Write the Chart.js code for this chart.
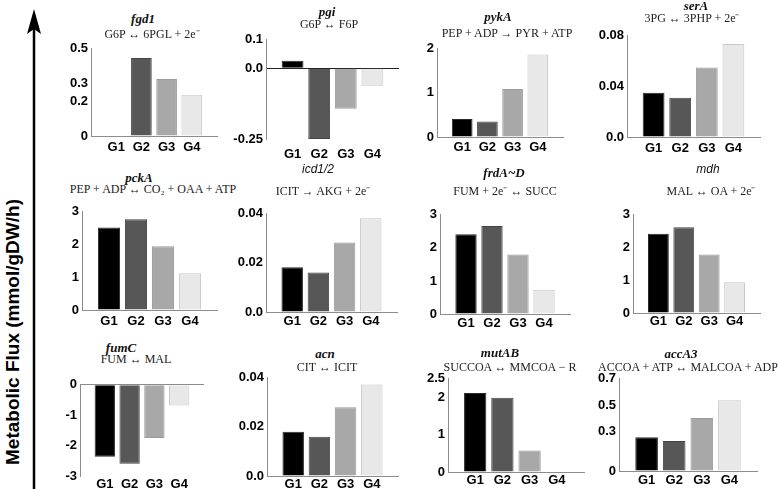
<!DOCTYPE html>
<html>
<head>
<meta charset="utf-8">
<script src="https://cdn.jsdelivr.net/npm/chart.js@4.4.1/dist/chart.umd.min.js"></script>
<style>
body { margin:0; background:#fff; width:778px; height:489px; overflow:hidden; position:relative; }
canvas { position:absolute; }
.gene { position:absolute; transform:translate(-50%,-50%); font:italic bold 13px 'Liberation Serif', serif; white-space:nowrap; color:#111; }
.gene.sans { font:italic 12px 'Liberation Sans', sans-serif; }
.eq { position:absolute; transform:translate(-50%,-50%); font:12px 'Liberation Serif', serif; white-space:nowrap; color:#222; }
#ylabel { position:absolute; left:13px; top:332px; transform:translate(-50%,-50%) rotate(-90deg); font:bold 19px 'Liberation Sans', Arial, sans-serif; white-space:nowrap; color:#000; }
</style>
</head>
<body>
<svg width="50" height="489" style="position:absolute;left:0;top:0">
  <line x1="34" y1="489" x2="34" y2="28" stroke="#000" stroke-width="2.5"/>
  <polygon points="34,9 27,34 34,29 41,34" fill="#000"/>
</svg>
<div id="ylabel">Metabolic Flux (mmol/gDW/h)</div>
<script>
let groups = ['G1', 'G2', 'G3', 'G4']
let genes = ['fgd1', 'pgi', 'pykA', 'serA', 'pckA', 'icd1/2', 'frdA~D', 'mdh', 'fumC', 'acn', 'mutAB', 'accA3']
let reactions = [
    'G6P ↔ 6PGL + 2e⁻', 'G6P ↔ F6P', 'PEP + ADP → PYR + ATP', '3PG ↔ 3PHP + 2e⁻',
    'PEP + ADP ↔ CO₂ + OAA + ATP', 'ICIT → AKG + 2e⁻', 'FUM + 2e⁻ ↔ SUCC', 'MAL ↔ OA + 2e⁻',
    'FUM ↔ MAL', 'CIT ↔ ICIT', 'SUCCOA ↔ MMCOA − R', 'ACCOA + ATP ↔ MALCOA + ADP'
]

// flux values per gene, G1..G4
let fgd1Flux = [0, 0.447, 0.327, 0.237]
let pgiFlux = [0.026, -0.25, -0.143, -0.062]
let pykAFlux = [0.41, 0.35, 1.09, 1.87]
let serAFlux = [0.035, 0.031, 0.055, 0.0735]
let pckAFlux = [2.52, 2.77, 1.95, 1.12]
let icdFlux = [0.0182, 0.0161, 0.0283, 0.0382]
let frdAFlux = [2.41, 2.66, 1.80, 0.73]
let mdhFlux = [2.42, 2.62, 1.79, 0.94]
let fumCFlux = [-2.37, -2.6, -1.75, -0.68]
let acnFlux = [0.018, 0.016, 0.028, 0.0373]
let mutABFlux = [2.12, 1.99, 0.58, 0]
let accA3Flux = [0.257, 0.227, 0.403, 0.538]

// y tick values and their labels
let fgd1Ticks = [0, 0.2, 0.3, 0.5], fgd1Labels = ['0', '0.2', '0.3', '0.5']
let pgiTicks = [-0.25, 0, 0.1], pgiLabels = ['-0.25', '0.0', '0.1']
let pykATicks = [0, 1, 2], pykALabels = ['0', '1', '2']
let serATicks = [0, 0.04, 0.08], serALabels = ['0.0', '0.04', '0.08']
let pckATicks = [0, 1, 2, 3], pckALabels = ['0', '1', '2', '3']
let icdTicks = [0, 0.02, 0.04], icdLabels = ['0.0', '0.02', '0.04']
let frdATicks = [0, 1, 2, 3], frdALabels = ['0', '1', '2', '3']
let mdhTicks = [0, 1, 2, 3], mdhLabels = ['0', '1', '2', '3']
let fumCTicks = [-3, -2, -1, 0], fumCLabels = ['-3', '-2', '-1', '0']
let acnTicks = [0, 0.02, 0.04], acnLabels = ['0.0', '0.02', '0.04']
let mutABTicks = [0, 1, 2, 2.5], mutABLabels = ['0', '1', '2', '2.5']
let accA3Ticks = [0, 0.3, 0.5, 0.7], accA3Labels = ['0', '0.3', '0.5', '0.7']

let fluxes = [fgd1Flux, pgiFlux, pykAFlux, serAFlux, pckAFlux, icdFlux, frdAFlux, mdhFlux, fumCFlux, acnFlux, mutABFlux, accA3Flux]
let tickSets = [fgd1Ticks, pgiTicks, pykATicks, serATicks, pckATicks, icdTicks, frdATicks, mdhTicks, fumCTicks, acnTicks, mutABTicks, accA3Ticks]
let labelSets = [fgd1Labels, pgiLabels, pykALabels, serALabels, pckALabels, icdLabels, frdALabels, mdhLabels, fumCLabels, acnLabels, mutABLabels, accA3Labels]

// plot area: left, top, right, bottom ; gene title x,y ; reaction x,y ; group label y
let boxes = [
    [91, 48, 217, 136, 143, 19, 152, 33, 148],
    [266, 39, 399, 139, 327, 12, 329, 24, 155],
    [437, 48, 563, 137, 498, 17, 507, 33, 148],
    [627, 35, 760, 137, 696, 6, 692, 17, 149],
    [82, 211, 217, 310, 139, 178, 153, 189, 322],
    [266, 213, 397, 312, 318, 169, 323, 190, 322],
    [440, 214, 570, 314, 504, 173, 505, 190, 324],
    [633, 214, 760, 313, 708, 169, 711, 190, 322],
    [80, 384, 204, 476, 121, 348, 136, 359, 485],
    [267, 377, 398, 476, 325, 354, 327, 367, 485],
    [448, 378, 584, 472, 500, 353, 510, 367, 481],
    [619, 378, 757, 471, 681, 354, 688, 367, 481]
]

let barColors = ['#000000', '#575757', '#a8a8a8', '#e8e8e8']
let barBorders = ['#2a2a2a', '#444444', '#9a9a9a', '#c8c8c8']
let tickFont = {family: "'Liberation Sans', Arial, sans-serif", size: 13, weight: 'bold'}

let YW = 45
let PADT = 10
let PADR = 4

for (let i = 0; i < genes.length; i++){
    makePanel(i)
}

function makePanel(i){
    let b = boxes[i]
    let values = fluxes[i]
    let ticks = tickSets[i]
    let labels = labelSets[i]
    let hasNeg = Math.min(...ticks) < 0
    let xPad = Math.max(0, b[8] - b[3] - 8)
    let xh = xPad + 17

    let canvas = document.createElement('canvas')
    canvas.width = (b[2] - b[0]) + YW + PADR
    canvas.height = (b[3] - b[1]) + PADT + xh
    canvas.style.left = (b[0] - YW) + 'px'
    canvas.style.top = (b[1] - PADT) + 'px'
    document.body.appendChild(canvas)

    let gene = document.createElement('div')
    gene.className = (genes[i] === 'icd1/2' || genes[i] === 'mdh') ? 'gene sans' : 'gene'
    gene.textContent = genes[i]
    gene.style.left = b[4] + 'px'
    gene.style.top = b[5] + 'px'
    document.body.appendChild(gene)

    let eq = document.createElement('div')
    eq.className = 'eq'
    eq.textContent = reactions[i]
    eq.style.left = b[6] + 'px'
    eq.style.top = b[7] + 'px'
    document.body.appendChild(eq)

    new Chart(canvas, {
        type: 'bar',
        data: {
            datasets: [{
                data: groups.map(function (g, k){ return {x: k + 1, y: values[k]} }),
                backgroundColor: barColors,
                borderColor: barBorders,
                borderWidth: 1,
                barPercentage: 0.82,
                categoryPercentage: 1
            }]
        },
        options: {
            responsive: false,
            animation: false,
            devicePixelRatio: 1,
            layout: {padding: {top: PADT, right: PADR, left: 0, bottom: 0}},
            plugins: {legend: {display: false}, tooltip: {enabled: false}},
            scales: {
                x: {
                    type: 'linear',
                    offset: false,
                    min: 0,
                    max: 5,
                    grid: {display: false, drawTicks: false, tickLength: 0},
                    border: {display: !hasNeg, color: '#8c8c8c'},
                    afterBuildTicks: function (s){ s.ticks = groups.map(function (g, k){ return {value: k + 1} }) },
                    ticks: {
                        callback: function (v){ return groups[v - 1] },
                        font: tickFont, color: '#000', padding: xPad, maxRotation: 0, autoSkip: false
                    },
                    afterFit: function (s){ s.height = xh }
                },
                y: {
                    min: Math.min(...ticks),
                    max: Math.max(...ticks),
                    afterBuildTicks: function (s){ s.ticks = ticks.map(function (v){ return {value: v} }) },
                    ticks: {
                        callback: function (v){ return labels[ticks.indexOf(v)] },
                        font: tickFont, color: '#000', padding: 3, autoSkip: false
                    },
                    grid: {
                        drawTicks: false,
                        color: function (c){
                            if (hasNeg && c.tick && c.tick.value === 0) return i === 1 ? '#222' : '#8c8c8c'
                            return 'rgba(0,0,0,0)'
                        }
                    },
                    border: {color: '#8c8c8c'},
                    afterFit: function (s){ s.width = YW }
                }
            }
        }
    })
}
</script>
</body>
</html>
